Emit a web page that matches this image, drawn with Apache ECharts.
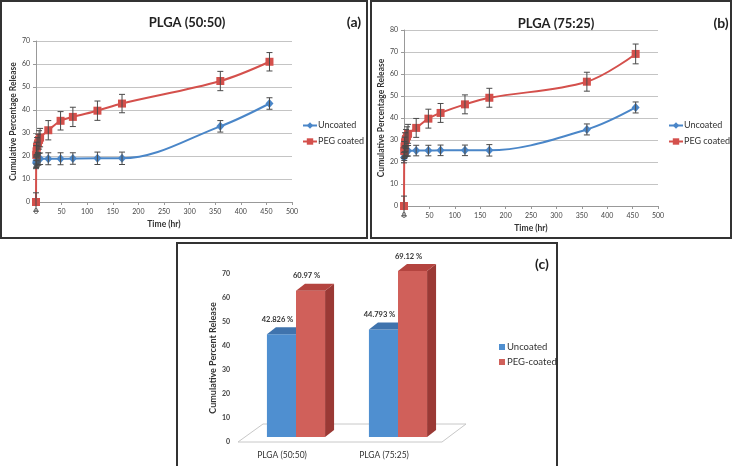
<!DOCTYPE html>
<html><head><meta charset="utf-8">
<script src="https://cdn.jsdelivr.net/npm/echarts@6/dist/echarts.min.js"></script>
<style>html,body{margin:0;padding:0;background:#fff}#c{width:733px;height:466px}</style>
</head><body><div id="c"></div>
<script>
// ---------- data ----------
const times = [0, 0.5, 1, 2, 4, 6, 8, 24, 48, 72, 120, 168, 360, 456];
const aUncoated    = [17, 17.5, 18, 18.2, 18.5, 18.7, 18.8, 18.8, 18.8, 18.9, 19, 19, 32.9, 42.826];
const aUncoatedErr = [2.5, 2.5, 2.5, 2.5, 2.5, 2.5, 2.5, 2.6, 2.6, 2.5, 2.7, 2.7, 2.5, 2.5];
const aPeg         = [0, 20.5, 22, 24, 25.5, 27, 28, 31.2, 35.3, 37, 39.7, 42.8, 52.6, 60.97];
const aPegErr      = [4, 4, 4, 4, 4, 4, 4, 4.2, 4, 4.2, 4.2, 4, 4.2, 4];
const bUncoated    = [22, 24, 24.5, 25, 25, 25.1, 25.1, 25.2, 25.2, 25.3, 25.3, 25.3, 34.8, 44.793];
const bUncoatedErr = [2.4, 2.4, 2.4, 2.4, 2.4, 2.4, 2.4, 2.4, 2.4, 2.4, 2.4, 2.6, 2.5, 2.5];
const bPeg         = [0, 25, 27, 29, 30.5, 31.7, 32.8, 35.5, 39.7, 42.3, 46.2, 49.2, 56.5, 69.12];
const bPegErr      = [4.5, 4.3, 4.3, 4.3, 4.3, 4.3, 4.3, 4.3, 4.3, 4.3, 4.3, 4.3, 4.3, 4.5];
const barCategories = ['PLGA (50:50)', 'PLGA (75:25)'];
const barUncoated = [42.826, 44.793];
const barPeg = [60.97, 69.12];
const timeTicks = {min: 0, max: 500, interval: 50};
const aY = {min: 0, max: 70, interval: 10};
const bY = {min: 0, max: 80, interval: 10};
const cY = {min: 0, max: 70, interval: 10};

// ---------- styles ----------
const FONT = 'Lato, "Open Sans", sans-serif';
const BLUE = '#4a86c8', RED = '#d4504c';
const pair = (xs, ys) => xs.map((x, i) => [x, ys[i]]);
const triple = (xs, ys, es) => xs.map((x, i) => [x, ys[i], es[i]]);

function valueX(gi) {
  return {type: 'value', gridIndex: gi, ...timeTicks,
    name: 'Time (hr)', nameLocation: 'middle', nameGap: 18,
    nameTextStyle: {fontFamily: FONT, fontWeight: 'bold', fontSize: 8.5, color: '#333'},
    axisLine: {show: true, lineStyle: {color: '#999'}},
    axisTick: {show: true, length: 3, lineStyle: {color: '#999'}},
    axisLabel: {fontFamily: FONT, fontSize: 7, color: '#444', margin: 6},
    splitLine: {show: false}};
}
function valueY(gi, r) {
  return {type: 'value', gridIndex: gi, ...r,
    name: 'Cumulative Percentage Release', nameLocation: 'middle', nameGap: 18,
    nameTextStyle: {fontFamily: FONT, fontWeight: 'bold', fontSize: 8.5, color: '#333'},
    axisLine: {show: true, lineStyle: {color: '#999'}},
    axisTick: {show: true, length: 3, lineStyle: {color: '#999'}},
    axisLabel: {fontFamily: FONT, fontSize: 7, color: '#444', margin: 6},
    splitLine: {show: true, lineStyle: {color: '#c4c4c4'}}};
}
function lineSeries(name, gi, data, color, symbol) {
  return {type: 'line', name, xAxisIndex: gi, yAxisIndex: gi, data,
    smooth: 0.35, symbol, symbolSize: symbol === 'diamond' ? [8, 9] : 8,
    lineStyle: {color, width: 2}, itemStyle: {color}, z: 3};
}
function errSeries(gi, idx, data) {
  return {type: 'custom', name: 'err-' + gi + '-' + idx, xAxisIndex: gi, yAxisIndex: gi, data, z: 4,
    renderItem(params, api) {
      const x = api.value(0), y = api.value(1), e = api.value(2);
      const lo = api.coord([x, y - e]), hi = api.coord([x, y + e]);
      const st = {stroke: '#4a4a4a', lineWidth: 1};
      return {type: 'group', children: [
        {type: 'line', shape: {x1: lo[0], y1: lo[1], x2: hi[0], y2: hi[1]}, style: st},
        {type: 'line', shape: {x1: lo[0] - 3, y1: lo[1], x2: lo[0] + 3, y2: lo[1]}, style: st},
        {type: 'line', shape: {x1: hi[0] - 3, y1: hi[1], x2: hi[0] + 3, y2: hi[1]}, style: st}
      ]};
    }};
}
const OFFX = 7, OFFY = -5, DX = 9, DY = -7;
function barSeries(name, side, values, cFront, cTop, cSide) {
  return {type: 'custom', name, xAxisIndex: 2, yAxisIndex: 2,
    data: values.map((v, i) => [i, v]), z: side === 0 ? 5 : 4,
    renderItem(params, api) {
      const c0 = api.coord([api.value(0), 0]);
      const c1 = api.coord([api.value(0), api.value(1)]);
      const band = api.size([1, 0])[0];
      const w = band * 0.285;
      const x0 = c0[0] + OFFX + (side === -1 ? -w : 0);
      const yb = c0[1] + OFFY, yt = c1[1] + OFFY;
      return {type: 'group', children: [
        {type: 'polygon', shape: {points: [[x0 + w, yt], [x0 + w + DX, yt + DY], [x0 + w + DX, yb + DY], [x0 + w, yb]]}, style: {fill: cSide}},
        {type: 'rect', shape: {x: x0, y: yt, width: w, height: yb - yt}, style: {fill: cFront}},
        {type: 'polygon', shape: {points: [[x0, yt], [x0 + w, yt], [x0 + w + DX, yt + DY], [x0 + DX, yt + DY]]}, style: {fill: cTop}},
        {type: 'text', style: {text: api.value(1) + ' %', x: x0 + w / 2 - 4, y: yt - 15, align: 'center', verticalAlign: 'middle',
          font: 'bold 7.5px ' + FONT, fill: '#333'}}
      ]};
    }};
}

const chart = echarts.init(document.getElementById('c'), null, {renderer: 'canvas'});
const titleStyle = {fontFamily: FONT, fontWeight: 'bold', fontSize: 13, color: '#222'};
const tagStyle = {fontFamily: FONT, fontWeight: 'bold', fontSize: 14, color: '#222'};
const legendText = {fontFamily: FONT, fontSize: 9, color: '#333', padding: [0, 0, 0, -4]};
chart.setOption({
  animation: false,
  backgroundColor: '#fff',
  title: [
    {text: 'PLGA (50:50)', left: 182, top: 11, textAlign: 'center', textStyle: titleStyle},
    {text: '(a)', left: 349, top: 10, textAlign: 'center', textStyle: tagStyle},
    {text: 'PLGA (75:25)', left: 551, top: 12, textAlign: 'center', textStyle: titleStyle},
    {text: '(b)', left: 716, top: 11, textAlign: 'center', textStyle: tagStyle},
    {text: '(c)', left: 537, top: 252, textAlign: 'center', textStyle: tagStyle}
  ],
  legend: [
    {orient: 'vertical', left: 302, top: 121, padding: 0, itemWidth: 14, itemHeight: 8, itemGap: 7,
     data: ['Uncoated', 'PEG coated'], textStyle: legendText},
    {orient: 'vertical', left: 668, top: 121, padding: 0, itemWidth: 14, itemHeight: 8, itemGap: 7,
     data: ['Uncoated', 'PEG coated'], textStyle: legendText},
    {orient: 'vertical', left: 499, top: 342, padding: 0, itemWidth: 6, itemHeight: 6, itemGap: 5,
     data: [{name: 'Uncoated', icon: 'rect', itemStyle: {color: '#4f8fd0'}},
            {name: 'PEG-coated', icon: 'rect', itemStyle: {color: '#d0605a'}}],
     textStyle: {fontFamily: FONT, fontSize: 9.5, color: '#333', padding: [0, 0, 0, -3]}}
  ],
  grid: [
    {left: 36, top: 41, width: 256, height: 161},
    {left: 404, top: 30, width: 254, height: 176},
    {left: 238, top: 274, width: 204, height: 168}
  ],
  xAxis: [valueX(0), valueX(1),
    {type: 'category', gridIndex: 2, data: barCategories,
     axisLine: {show: false}, axisTick: {show: false},
     axisLabel: {fontFamily: FONT, fontSize: 8.5, color: '#333', margin: 9, padding: [0, 14, 0, 0]}}],
  yAxis: [valueY(0, aY), valueY(1, bY),
    {type: 'value', gridIndex: 2, ...cY,
     name: 'Cumulative Percent Release', nameLocation: 'middle', nameGap: 17,
     nameTextStyle: {fontFamily: FONT, fontWeight: 'bold', fontSize: 9, color: '#333'},
     axisLine: {show: false}, axisTick: {show: false}, splitLine: {show: false},
     axisLabel: {fontFamily: FONT, fontSize: 7, fontWeight: 'bold', color: '#444', margin: 8}}],
  graphic: [
    {type: 'rect', shape: {x: 1, y: 1, width: 366, height: 237}, style: {fill: 'none', stroke: '#333', lineWidth: 2}, z: 0},
    {type: 'rect', shape: {x: 371, y: 1, width: 360, height: 237}, style: {fill: 'none', stroke: '#333', lineWidth: 2}, z: 0},
    {type: 'rect', shape: {x: 177, y: 243, width: 380, height: 240}, style: {fill: 'none', stroke: '#333', lineWidth: 2}, z: 0},
    {type: 'polygon', shape: {points: [[238, 442], [263, 424], [466, 424], [442, 442]]}, style: {fill: '#fff', stroke: '#c8c8c8', lineWidth: 1}, z: 0}
  ],
  series: [
    lineSeries('Uncoated', 0, pair(times, aUncoated), BLUE, 'diamond'),
    lineSeries('PEG coated', 0, pair(times, aPeg), RED, 'rect'),
    errSeries(0, 0, triple(times, aUncoated, aUncoatedErr)),
    errSeries(0, 1, triple(times, aPeg, aPegErr)),
    lineSeries('Uncoated', 1, pair(times, bUncoated), BLUE, 'diamond'),
    lineSeries('PEG coated', 1, pair(times, bPeg), RED, 'rect'),
    errSeries(1, 0, triple(times, bUncoated, bUncoatedErr)),
    errSeries(1, 1, triple(times, bPeg, bPegErr)),
    barSeries('Uncoated', -1, barUncoated, '#4f8fd0', '#3f73ad', '#33639a'),
    barSeries('PEG-coated', 0, barPeg, '#d0605a', '#b4443f', '#9a3935')
  ]
});
</script></body></html>
